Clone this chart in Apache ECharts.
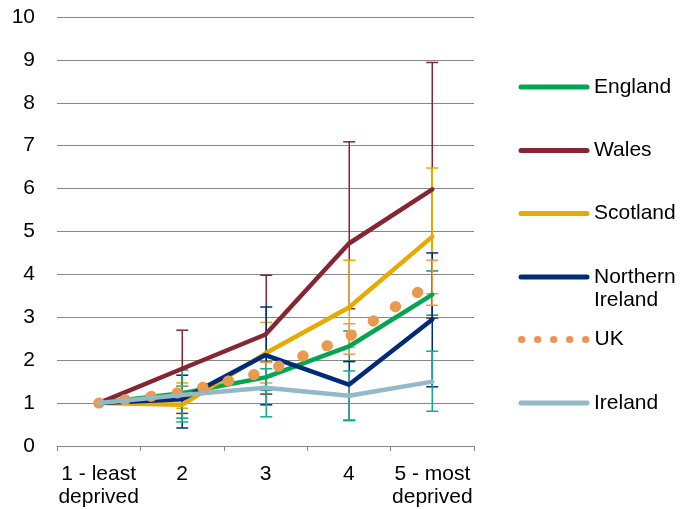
<!DOCTYPE html>
<html>
<head>
<meta charset="utf-8">
<script src="https://cdn.jsdelivr.net/npm/echarts@6/dist/echarts.min.js"></script>
<style>html,body{margin:0;padding:0;background:#fff}#c{width:685px;height:509px}</style>
</head>
<body>
<div id="c"></div>
<script>
const categories = ['1 - least\ndeprived', '2', '3', '4', '5 - most\ndeprived'];
const yTicks = [0, 10, 1]; // min, max, interval

const england   = [1, 1.23, 1.60, 2.32, 3.53];
const englandLo = [1, 0.65, 1.30, 1.97, 3.05];
const englandHi = [1, 1.39, 1.96, 2.68, 4.08];

const wales   = [1, 1.80, 2.60, 4.72, 5.98];
const walesLo = [1, 0.76, 1.21, 3.20, 2.98];
const walesHi = [1, 2.70, 3.98, 7.09, 8.94];

const scotland   = [1, 0.96, 2.16, 3.23, 4.88];
const scotlandLo = [1, 0.88, 1.60, 2.30, 3.55];
const scotlandHi = [1, 1.47, 2.88, 4.33, 6.48];

const nIreland   = [1, 1.09, 2.12, 1.43, 2.95];
const nIrelandLo = [1, 0.42, 0.96, 0.60, 1.38];
const nIrelandHi = [1, 1.65, 3.24, 1.97, 4.50];

const uk   = [1, 1.25, 1.73, 2.55, 3.80];
const ukLo = [1, 1.10, 1.47, 2.14, 3.28];
const ukHi = [1, 1.40, 1.95, 2.85, 4.33];

const ireland   = [1, 1.19, 1.36, 1.17, 1.50];
const irelandLo = [1, 0.56, 0.68, 0.59, 0.81];
const irelandHi = [1, 1.77, 1.80, 1.75, 2.21];

const FONT = "'Liberation Sans', Arial, sans-serif";

function errData(lo, hi) {
  return lo.map((v, i) => [i, v, hi[i]]);
}
function errSeries(name, lo, hi, color) {
  return {
    name: name + ' CI', type: 'custom', z: 1,
    data: errData(lo, hi),
    encode: {x: 0, y: [1, 2]},
    renderItem: function (params, api) {
      const xi = api.value(0), l = api.value(1), h = api.value(2);
      if (l === h) return null;
      const pl = api.coord([xi, l]), ph = api.coord([xi, h]);
      const x = Math.round(pl[0]) + 0.25, w = 6;
      const st = {stroke: color, lineWidth: 1.5};
      return {type: 'group', children: [
        {type: 'line', shape: {x1: x, y1: ph[1], x2: x, y2: pl[1]}, style: st},
        {type: 'line', shape: {x1: x - w, y1: ph[1], x2: x + w, y2: ph[1]}, style: st},
        {type: 'line', shape: {x1: x - w, y1: pl[1], x2: x + w, y2: pl[1]}, style: st}
      ]};
    }
  };
}
function lineSeries(name, data, color, extra) {
  return Object.assign({
    name: name, type: 'line', data: data, z: 3,
    symbol: 'none', showSymbol: false, silent: true,
    lineStyle: {color: color, width: 4.5, cap: 'round', join: 'round'},
    itemStyle: {color: color}
  }, extra || {});
}
function legendAt(name, top, left, opts) {
  return Object.assign({
    data: [name], orient: 'vertical', left: left, top: top, padding: 0,
    itemWidth: 66, itemHeight: 20, selectedMode: false,
    lineStyle: {width: 5, cap: 'round'},
    itemStyle: {opacity: 0},
    textStyle: {fontFamily: FONT, fontSize: 21, color: '#000', lineHeight: 23, padding: [0, 0, 0, 2]}
  }, opts || {});
}

const C = {
  england: '#00A651', wales: '#862633', scotland: '#E8A900',
  ni: '#002A7A', uk: '#EA9A4E', ireland: '#93B9C6', irelandErr: '#17A98F'
};

const chart = echarts.init(document.getElementById('c'), null, {renderer: 'canvas'});
chart.setOption({
  animation: false,
  grid: {left: 57, right: 211, top: 17, bottom: 61, containLabel: false},
  xAxis: {
    type: 'category', data: categories, boundaryGap: true,
    axisLine: {lineStyle: {color: '#888', width: 1}},
    axisTick: {show: true, length: 5, interval: 0, lineStyle: {color: '#888'}},
    axisLabel: {fontFamily: FONT, fontSize: 21, color: '#000', lineHeight: 23, margin: 17, interval: 0}
  },
  yAxis: {
    type: 'value', min: yTicks[0], max: yTicks[1], interval: yTicks[2],
    axisLine: {show: false}, axisTick: {show: false},
    splitLine: {lineStyle: {color: '#888', width: 1}},
    axisLabel: {fontFamily: FONT, fontSize: 21, color: '#000', margin: 22}
  },
  legend: [
    legendAt('England', 75.5, 518.5),
    legendAt('Wales', 139, 518.5),
    legendAt('Scotland', 202, 518.5),
    legendAt('Northern Ireland', 242.5, 518.5, {
      formatter: '\nNorthern\nIreland'
    }),
    legendAt('UK', 328, 518, {
      itemWidth: 68,
      lineStyle: {width: 7, type: [0.5, 15.5], cap: 'round'},
      textStyle: {fontFamily: FONT, fontSize: 21, color: '#000', lineHeight: 23, padding: [0, 0, 0, 0]}
    }),
    legendAt('Ireland', 391.5, 518.5)
  ],
  series: [
    errSeries('England', englandLo, englandHi, C.england),
    errSeries('Wales', walesLo, walesHi, C.wales),
    errSeries('Scotland', scotlandLo, scotlandHi, C.scotland),
    errSeries('Northern Ireland', nIrelandLo, nIrelandHi, C.ni),
    errSeries('UK', ukLo, ukHi, C.uk),
    errSeries('Ireland', irelandLo, irelandHi, C.irelandErr),
    lineSeries('England', england, C.england),
    lineSeries('Wales', wales, C.wales),
    lineSeries('Scotland', scotland, C.scotland),
    lineSeries('Northern Ireland', nIreland, C.ni),
    lineSeries('UK', uk, C.uk, {
      lineStyle: {color: C.uk, width: 11, type: [0.5, 25.8], cap: 'round', join: 'round'}
    }),
    lineSeries('Ireland', ireland, C.ireland)
  ]
});
</script>
</body>
</html>
